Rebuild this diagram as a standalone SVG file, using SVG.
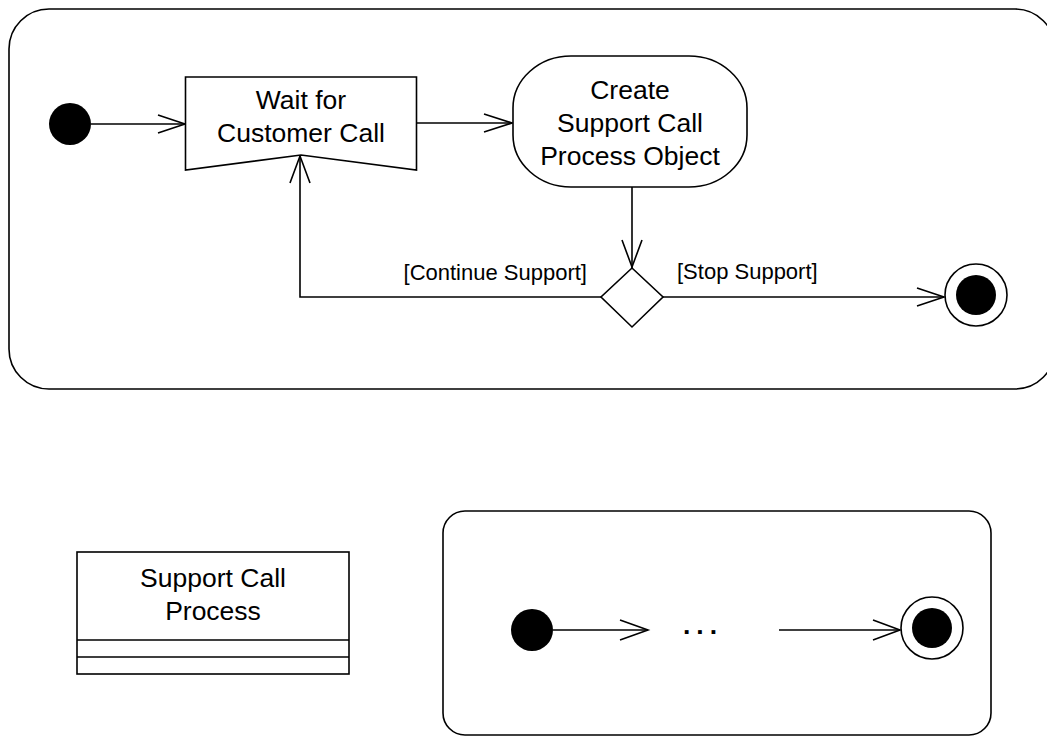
<svg xmlns="http://www.w3.org/2000/svg" width="1047" height="736" viewBox="0 0 1047 736">
<style>
.s{fill:none;stroke:#000;stroke-width:1.6}
.n{fill:#fff;stroke:#000;stroke-width:1.6}
.f{fill:#000}
.t{font-family:"Liberation Sans",Arial,sans-serif;font-size:26.5px;fill:#000;text-anchor:middle}
.l{font-family:"Liberation Sans",Arial,sans-serif;font-size:22px;fill:#000}
</style>
<rect width="1047" height="736" fill="#fff"/>
<g id="activity-frame"><rect class="s" x="9" y="9" width="1046" height="380" rx="40"/></g>
<g id="connectors">
<path class="s" d="M91,124 H185"/><path class="s" d="M158,115 L185,124 L158,133"/>
<path class="s" d="M417,123 H512"/><path class="s" d="M484,114 L512,123 L484,132"/>
<path class="s" d="M632,187 V268"/><path class="s" d="M622,240 L632,267 L642,240"/>
<path class="s" d="M601,297 H300 V156"/><path class="s" d="M290,183 L300,156 L310,183"/>
<path class="s" d="M663,297 H944"/><path class="s" d="M917,288 L944,297 L917,306"/>
<path class="s" d="M553,630 H648"/><path class="s" d="M620,620 L648,630 L620,640"/>
<path class="s" d="M779,630 H900"/><path class="s" d="M873,620 L900,630 L873,640"/>
</g>
<g id="initial"><circle class="f" cx="70" cy="124" r="21"/></g>
<g id="wait"><polygon class="n" points="185.5,77 416.5,77 416.5,170 301,155 185.5,170"/>
<text class="t" x="301" y="109">Wait for</text><text class="t" x="301" y="142">Customer Call</text></g>
<g id="create"><rect class="n" x="513" y="56" width="234" height="131" rx="58" ry="52"/>
<text class="t" x="630" y="99">Create</text><text class="t" x="630" y="132">Support Call</text><text class="t" x="630" y="165">Process Object</text></g>
<g id="decision"><polygon class="n" points="632,268 663,297 632,327 601,297"/></g>
<g id="labels"><text class="l" x="587" y="280" text-anchor="end">[Continue Support]</text>
<text class="l" x="677" y="279">[Stop Support]</text></g>
<g id="final"><circle class="n" cx="976" cy="295" r="31"/><circle class="f" cx="976" cy="295" r="20"/></g>
<g id="class-box"><rect class="n" x="77" y="552" width="272" height="122"/>
<path class="s" d="M77,640 H349 M77,657 H349"/>
<text class="t" x="213" y="587">Support Call</text><text class="t" x="213" y="620">Process</text></g>
<g id="sub-frame"><rect class="s" x="443" y="511" width="548" height="224" rx="22"/></g>
<g id="sub-initial"><circle class="f" cx="532" cy="630" r="21"/></g>
<g id="ellipsis"><text class="t" x="703" y="634" style="letter-spacing:6px;font-weight:bold">...</text></g>
<g id="sub-final"><circle class="n" cx="932" cy="628" r="31"/><circle class="f" cx="932" cy="628" r="20"/></g>
</svg>
